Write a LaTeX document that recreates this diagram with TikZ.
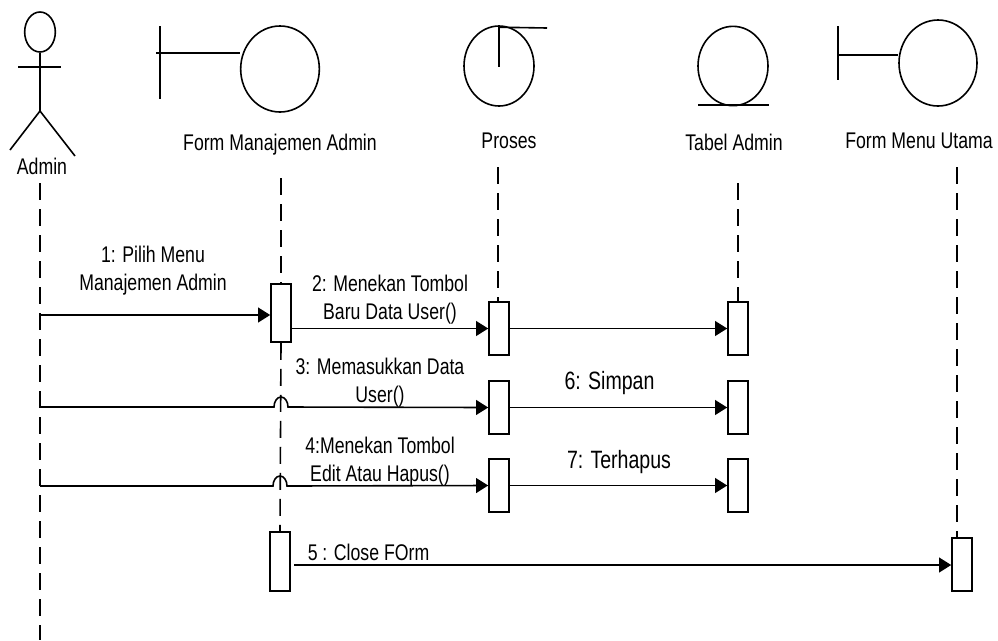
\documentclass[tikz,border=0pt]{standalone}
\usepackage{fontspec}
\setmainfont[FakeStretch=0.78]{Liberation Sans}
\usetikzlibrary{shapes,arrows.meta,calc,positioning}

\begin{document}
\begin{tikzpicture}[x=0.75pt, y=-0.75pt, line width=1.2pt,
  symbol/.style={ellipse, draw, inner sep=0pt},
  activation/.style={rectangle, draw, fill=white, inner sep=0pt, minimum width=15pt, minimum height=40pt},
  label/.style={inner sep=0pt, align=center, font=\fontsize{17pt}{21pt}\selectfont},
  lifeline/.style={dash pattern=on 12.75pt off 6.75pt},
  message/.style={-{Triangle[length=9pt, width=11pt]}}]
\useasboundingbox (0,0) rectangle (998,640);
% actor
\node[symbol, minimum width=23pt, minimum height=30pt] (head) at (40,32) {};
\coordinate (hip) at (40,111);
\coordinate (armL) at (18,67);
\coordinate (armR) at (61,67);
\coordinate (footL) at (10,150);
\coordinate (footR) at (75,156);
\draw (head) -- (hip);
\draw (armL) -- (armR);
\draw (footL) -- (hip) -- (footR);
\node[label] (admin) at (42,166) {Admin};
% form manajemen admin
\node[symbol, minimum width=59pt, minimum height=64.5pt] (form) at (280,69) {};
\coordinate (formTop) at (160,26);
\coordinate (formBot) at (160,99);
\coordinate (formBar) at (156,53);
\draw (formTop) -- (formBot);
\draw (formBar) -- (form.west |- formBar);
\node[label] (formText) at (280,145) {Form Manajemen Admin};
% proses
\node[symbol, minimum width=52.5pt, minimum height=60pt] (proses) at (499,66) {};
\coordinate (prosesMid) at (499,67);
\coordinate (prosesEnd) at (547,28);
\draw (proses.north) -- (prosesMid);
\draw (proses.north) ++(0,2) -- (prosesEnd);
\node[label] (prosesText) at (509,141) {Proses};
% tabel admin
\node[symbol, minimum width=52.5pt, minimum height=59.5pt] (tabel) at (733,66) {};
\coordinate (tabelL) at (698,105);
\coordinate (tabelR) at (769,105);
\draw (tabelL) -- (tabelR);
\node[label] (tabelText) at (734,142) {Tabel Admin};
% form menu utama
\node[symbol, minimum width=58.5pt, minimum height=64.5pt] (menu) at (938,63) {};
\coordinate (menuTop) at (838,26);
\coordinate (menuBot) at (838,80);
\coordinate (menuBar) at (838,55);
\draw (menuTop) -- (menuBot);
\draw (menuBar) -- (menu.west |- menuBar);
\node[label] (menuText) at (919,141) {Form Menu Utama};
% lifelines
\coordinate (adminTop) at (40,183);
\coordinate (adminEnd) at (40,640);
\coordinate (formStart) at (281,178);
\coordinate (prosesStart) at (498,167);
\coordinate (tabelStart) at (738,183);
\coordinate (menuStart) at (957,167);
\node[activation, minimum height=43.5pt] (form1) at (281,313) {};
\node[activation, minimum height=44.25pt] (form2) at (280,561.5) {};
\node[activation] (proses1) at (499,328.5) {};
\node[activation] (proses2) at (499,407.5) {};
\node[activation] (proses3) at (499,485.5) {};
\node[activation] (tabel1) at (738,328.5) {};
\node[activation] (tabel2) at (738,407.5) {};
\node[activation] (tabel3) at (738,485.5) {};
\node[activation] (menu1) at (962,564.5) {};
\draw[lifeline] (adminTop) -- (adminEnd);
\draw[lifeline] (formStart) -- (form1.north);
\draw[lifeline] (form1.south) -- (form2.north);
\draw[lifeline] (prosesStart) -- (prosesStart |- proses1.north);
\draw[lifeline] (tabelStart) -- (tabel1.north);
\draw[lifeline] (menuStart) -- (menuStart |- menu1.north);
% messages
\coordinate (msg1) at (40,315);
\coordinate (msg3) at (40,407);
\coordinate (msg4) at (40,486);
\coordinate (msg5) at (294,565);
\draw[message] (msg1) -- (form1.west |- msg1);
\draw[message] (form1.east |- proses1) -- (proses1.west);
\draw[message] (proses1.east) -- (tabel1.west);
\draw[message] (msg3) -- (274,407) arc[start angle=180, end angle=0, x radius=5.25pt, y radius=7.5pt] -- (proses2.west);
\draw[message] (proses2.east) -- (tabel2.west);
\draw[message] (msg4) -- (273,486) arc[start angle=180, end angle=0, x radius=5.25pt, y radius=7.5pt] -- (proses3.west);
\draw[message] (proses3.east) -- (tabel3.west);
\draw[message] (msg5) -- (menu1.west |- msg5);
% labels
\node[label] (text1) at (153,271) {1: Pilih Menu\\Manajemen Admin};
\node[label] (text2) at (390,300) {2: Menekan Tombol\\Baru Data User()};
\node[label] (text3) at (380,383) {3: Memasukkan Data\\User()};
\node[label] (text4) at (380,462) {4:Menekan Tombol\\Edit Atau Hapus()};
\node[label] (text5) at (368.5,552) {5 : Close FOrm};
\node[label, font=\fontsize{18.8pt}{20pt}\selectfont] (text6) at (609.5,383.5) {6: Simpan};
\node[label, font=\fontsize{18.8pt}{20pt}\selectfont] (text7) at (619,462.5) {7: Terhapus};
\end{tikzpicture}
\end{document}
